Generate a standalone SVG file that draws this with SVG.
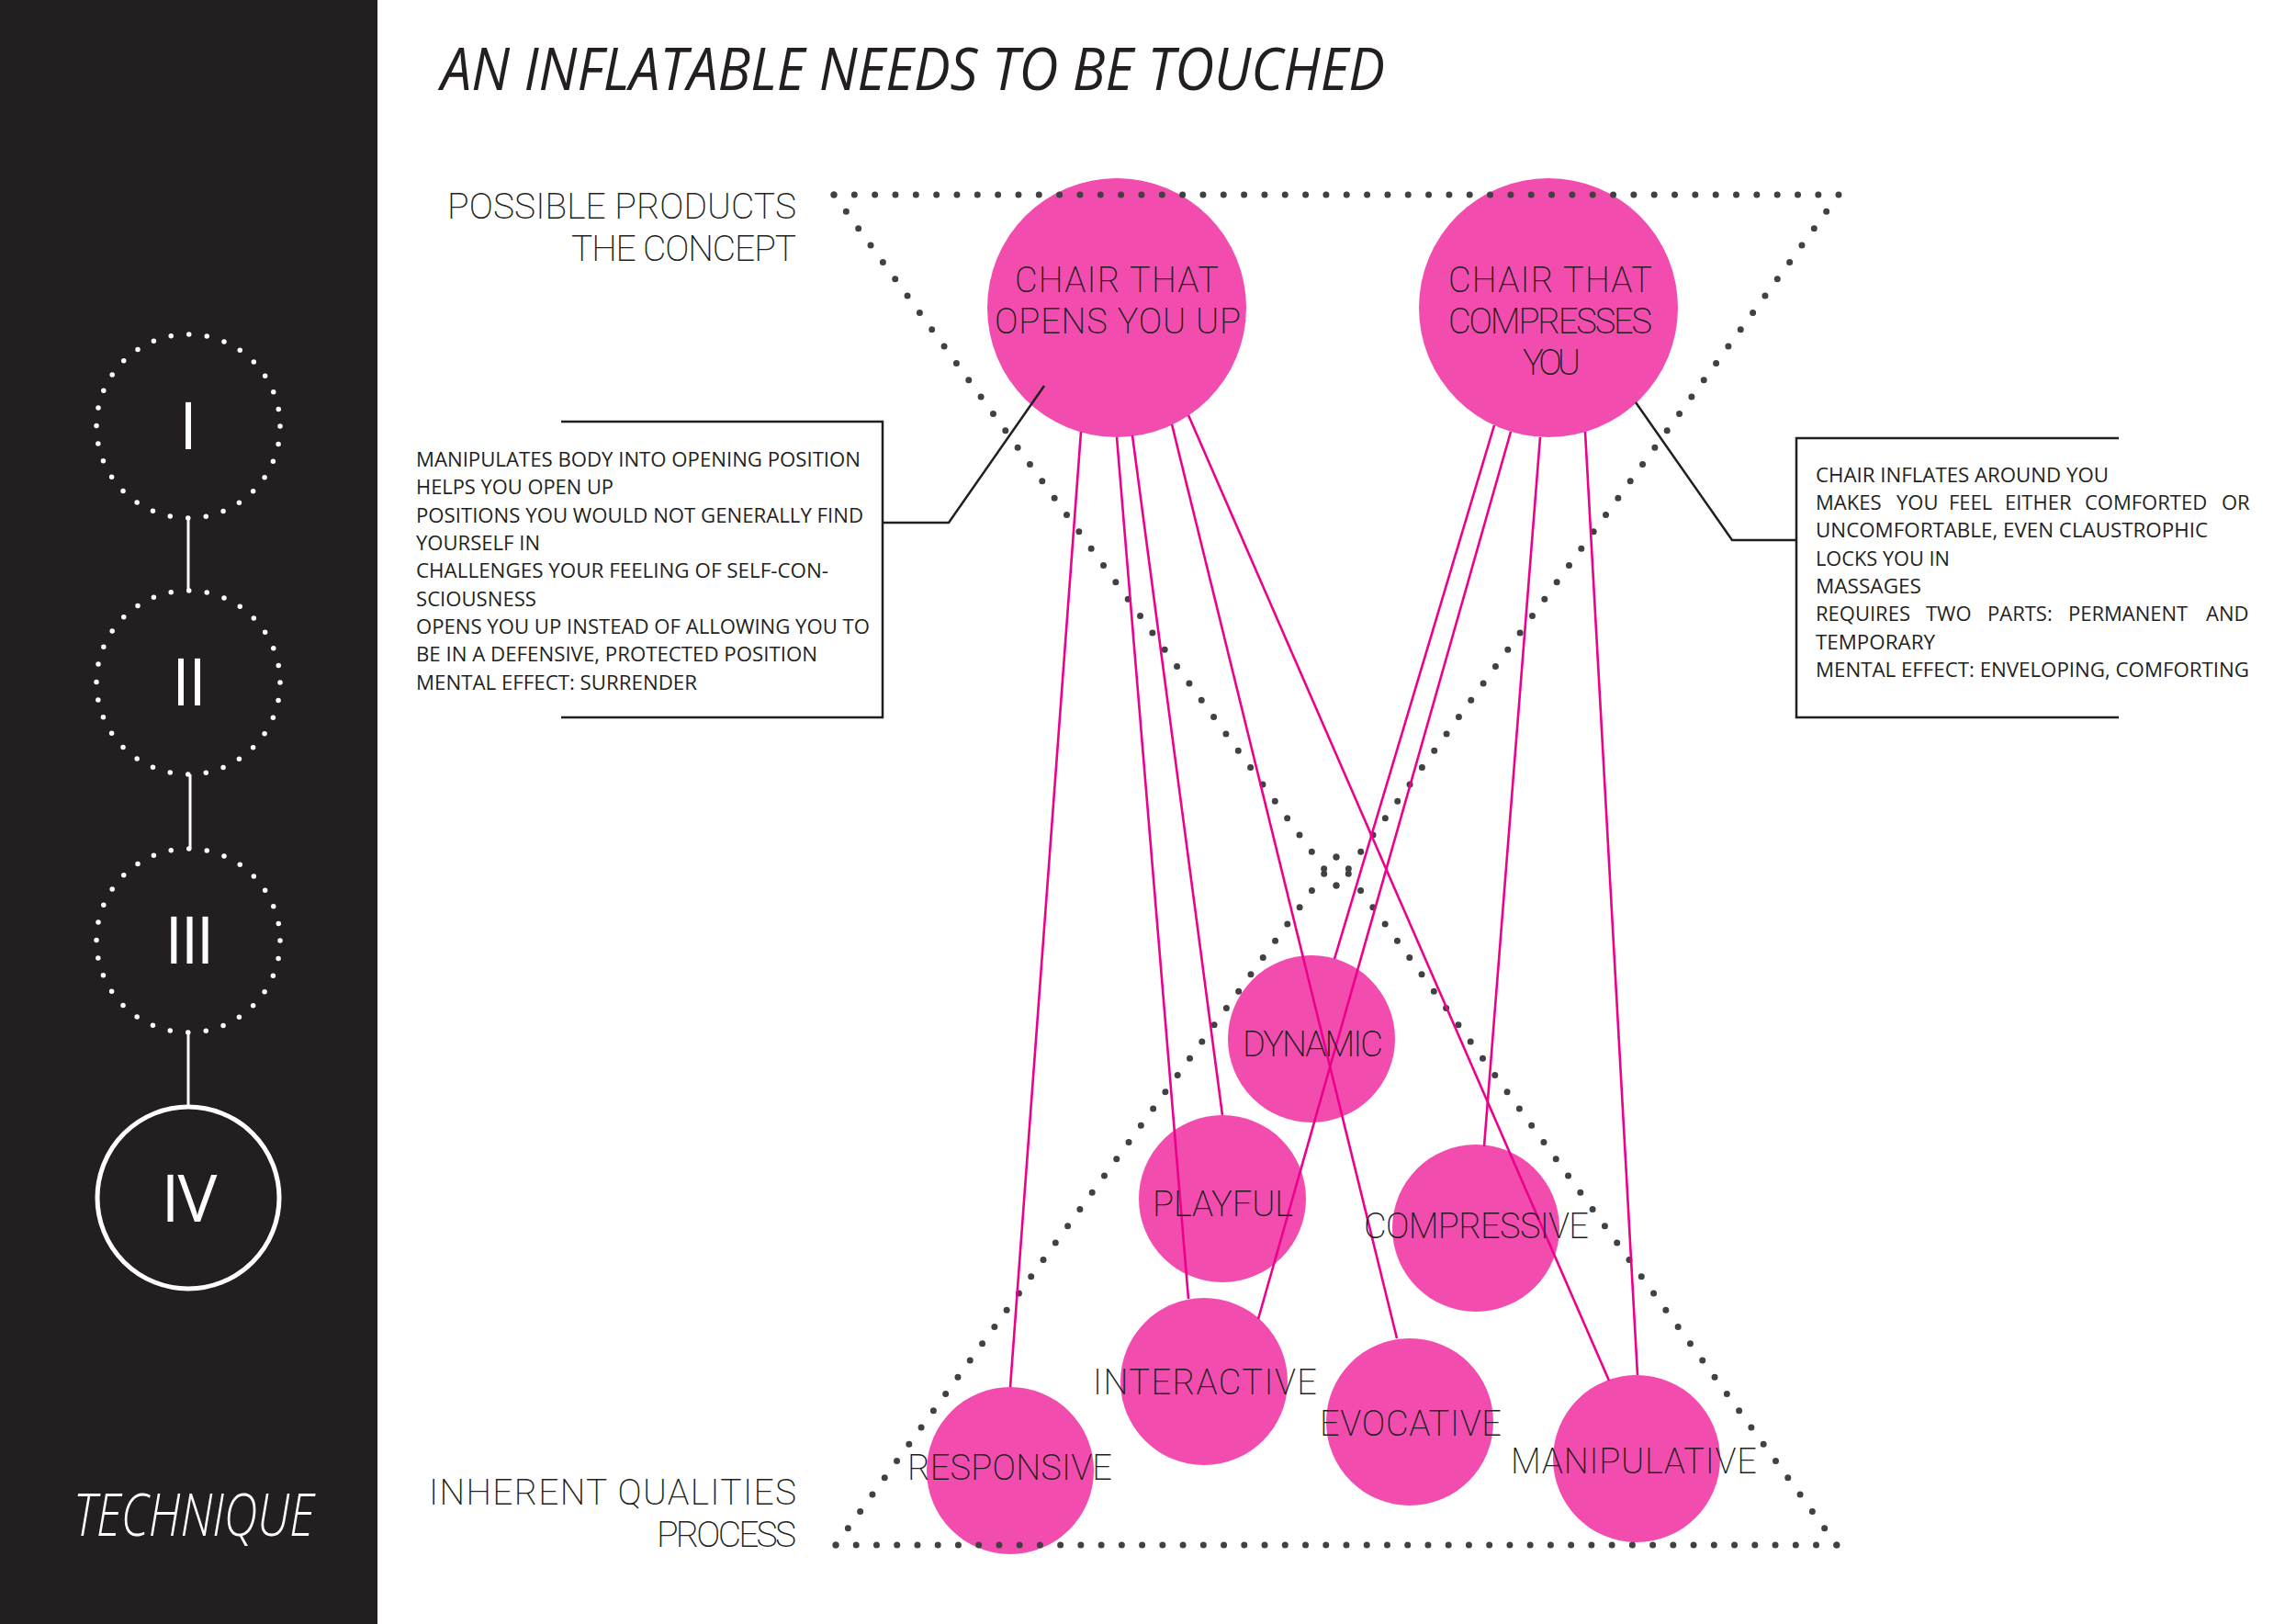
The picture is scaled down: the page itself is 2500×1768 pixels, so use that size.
<svg xmlns="http://www.w3.org/2000/svg" width="2500" height="1768" viewBox="0 0 2500 1768">
<defs>
<style>
.side{fill:#231f20}
.step{fill:none;stroke:#fff;stroke-width:5.5;stroke-linecap:round;stroke-dasharray:0 19.635}
.stepsolid{fill:none;stroke:#fff;stroke-width:5}
.num{font-family:"Open Sans","Liberation Sans",sans-serif;font-size:72px;fill:#fff;text-anchor:middle}
.link{stroke:#fff;stroke-width:3}
.dots{fill:none;stroke:#414042;stroke-width:7;stroke-linecap:round}
.bubble{fill:#f24dae}
.lbl{font-family:Roboto,"DejaVu Sans",sans-serif;font-weight:200;font-size:38px;fill:#231f20}
.side-lbl{font-family:Roboto,"DejaVu Sans",sans-serif;font-weight:200;font-size:39px;fill:#231f20}
.conn{stroke:#ec008c;stroke-width:2.6;fill:none}
.call{stroke:#231f20;stroke-width:2.5;fill:none}
.note{font-family:"Open Sans","Liberation Sans",sans-serif;font-size:22px;fill:#231f20}
.title{font-family:"Open Sans","Liberation Sans",sans-serif;font-style:italic;font-size:64px;fill:#231f20}
.tech{font-family:"Open Sans","Liberation Sans",sans-serif;font-style:italic;font-weight:300;font-size:64px;fill:#fff}
</style>
</defs>
<rect width="2500" height="1768" fill="#fff"/>

<!-- sidebar -->
<g id="sidebar">
<rect class="side" x="0" y="0" width="411" height="1768"/>
<g id="step-links">
<line class="link" x1="205" y1="564" x2="205" y2="643"/>
<line class="link" x1="207" y1="843" x2="207" y2="924"/>
<line class="link" x1="205" y1="1124" x2="205" y2="1204"/>
</g>
<g id="step-1"><circle class="step" cx="205" cy="464" r="100"/><text class="num" x="205" y="489">I</text></g>
<g id="step-2"><circle class="step" cx="205" cy="743" r="100"/><text class="num" x="205" y="768" letter-spacing="-2">II</text></g>
<g id="step-3"><circle class="step" cx="205" cy="1024" r="100"/><text class="num" x="205" y="1049" letter-spacing="-3">III</text></g>
<g id="step-4"><circle class="stepsolid" cx="205" cy="1304" r="99"/><text class="num" x="205" y="1330" letter-spacing="-2">IV</text></g>
<text class="tech" x="80" y="1672" textLength="262" lengthAdjust="spacingAndGlyphs">TECHNIQUE</text>
</g>

<!-- title -->
<text id="title" class="title" x="480" y="98" textLength="1028" lengthAdjust="spacingAndGlyphs">AN INFLATABLE NEEDS TO BE TOUCHED</text>

<!-- side labels -->
<g id="label-products">
<text class="side-lbl" x="487" y="238" textLength="380" lengthAdjust="spacing">POSSIBLE PRODUCTS</text>
<text class="side-lbl" x="622" y="284" textLength="245" lengthAdjust="spacing">THE CONCEPT</text>
</g>
<g id="label-qualities">
<text class="side-lbl" x="467" y="1638" textLength="400" lengthAdjust="spacing">INHERENT QUALITIES</text>
<text class="side-lbl" x="715" y="1684" textLength="152" lengthAdjust="spacing">PROCESS</text>
</g>

<!-- node circles -->
<g id="circles">
<circle id="c-open" class="bubble" cx="1216" cy="335" r="141"/>
<circle id="c-compress" class="bubble" cx="1686" cy="335" r="141"/>
<circle id="c-dynamic" class="bubble" cx="1428" cy="1131" r="91"/>
<circle id="c-playful" class="bubble" cx="1331" cy="1305" r="91"/>
<circle id="c-compressive" class="bubble" cx="1607" cy="1337" r="91"/>
<circle id="c-interactive" class="bubble" cx="1311" cy="1504" r="91"/>
<circle id="c-evocative" class="bubble" cx="1535" cy="1548" r="91"/>
<circle id="c-responsive" class="bubble" cx="1100" cy="1601" r="91"/>
<circle id="c-manipulative" class="bubble" cx="1782" cy="1588" r="91"/>
</g>

<!-- hourglass dotted frame -->
<g id="hourglass">
<path class="dots" d="M908,212 H2002" stroke-dasharray="0 22.33"/>
<path class="dots" d="M1455,964 L908,212" stroke-dasharray="0 22.68"/>
<path class="dots" d="M1455,964 L2002,212" stroke-dasharray="0 22.68"/>
<path class="dots" d="M1455,933 L910,1682" stroke-dasharray="0 22.59"/>
<path class="dots" d="M1455,933 L2000,1682" stroke-dasharray="0 22.59"/>
<path class="dots" d="M910,1682 H2000" stroke-dasharray="0 22.24"/>
</g>

<!-- connectors -->
<g id="connectors">
<line class="conn" x1="1177" y1="470" x2="1100" y2="1510"/>
<line class="conn" x1="1216" y1="476" x2="1294" y2="1414"/>
<line class="conn" x1="1233" y1="474" x2="1331" y2="1214"/>
<line class="conn" x1="1276" y1="462" x2="1521" y2="1457"/>
<line class="conn" x1="1294" y1="452" x2="1752" y2="1503"/>
<line class="conn" x1="1627" y1="463" x2="1453" y2="1044"/>
<line class="conn" x1="1645" y1="470" x2="1370" y2="1436"/>
<line class="conn" x1="1677" y1="476" x2="1616" y2="1248"/>
<line class="conn" x1="1726" y1="470" x2="1783" y2="1497"/>
<path class="call" d="M611,459 H961 V781 H611"/>
<path class="call" d="M961,569 H1033 L1137,420"/>
<path class="call" d="M2307,477 H1956 V781 H2307"/>
<path class="call" d="M1781,438 L1886,588 H1956"/>
</g>

<!-- node labels -->
<g id="node-open">
<text class="lbl" x="1105" y="318" textLength="222" lengthAdjust="spacing">CHAIR THAT</text>
<text class="lbl" x="1083" y="363" textLength="268" lengthAdjust="spacing">OPENS YOU UP</text>
</g>
<g id="node-compress">
<text class="lbl" x="1577" y="318" textLength="222" lengthAdjust="spacing">CHAIR THAT</text>
<text class="lbl" x="1577" y="363" textLength="222" lengthAdjust="spacing">COMPRESSES</text>
<text class="lbl" x="1658" y="408" textLength="63" lengthAdjust="spacing">YOU</text>
</g>
<g id="node-dynamic"><text class="lbl" x="1353" y="1150" textLength="153" lengthAdjust="spacing">DYNAMIC</text></g>
<g id="node-playful"><text class="lbl" x="1255" y="1324" textLength="153" lengthAdjust="spacing">PLAYFUL</text></g>
<g id="node-compressive"><text class="lbl" x="1485" y="1348" textLength="245" lengthAdjust="spacing">COMPRESSIVE</text></g>
<g id="node-interactive"><text class="lbl" x="1190" y="1518" textLength="244" lengthAdjust="spacing">INTERACTIVE</text></g>
<g id="node-evocative"><text class="lbl" x="1437" y="1563" textLength="198" lengthAdjust="spacing">EVOCATIVE</text></g>
<g id="node-responsive"><text class="lbl" x="988" y="1611" textLength="223" lengthAdjust="spacing">RESPONSIVE</text></g>
<g id="node-manipulative"><text class="lbl" x="1645" y="1604" textLength="268" lengthAdjust="spacing">MANIPULATIVE</text></g>

<!-- callout notes -->
<g id="note-open">
<text class="note" x="453" y="508" textLength="484" lengthAdjust="spacingAndGlyphs">MANIPULATES BODY INTO OPENING POSITION</text>
<text class="note" x="453" y="538" textLength="215" lengthAdjust="spacingAndGlyphs">HELPS YOU OPEN UP</text>
<text class="note" x="453" y="569" textLength="487" lengthAdjust="spacingAndGlyphs">POSITIONS YOU WOULD NOT GENERALLY FIND</text>
<text class="note" x="453" y="599" textLength="135" lengthAdjust="spacingAndGlyphs">YOURSELF IN</text>
<text class="note" x="453" y="629" textLength="449" lengthAdjust="spacingAndGlyphs">CHALLENGES YOUR FEELING OF SELF-CON-</text>
<text class="note" x="453" y="660" textLength="131" lengthAdjust="spacingAndGlyphs">SCIOUSNESS</text>
<text class="note" x="453" y="690" textLength="494" lengthAdjust="spacingAndGlyphs">OPENS YOU UP INSTEAD OF ALLOWING YOU TO</text>
<text class="note" x="453" y="720" textLength="437" lengthAdjust="spacingAndGlyphs">BE IN A DEFENSIVE, PROTECTED POSITION</text>
<text class="note" x="453" y="751" textLength="306" lengthAdjust="spacingAndGlyphs">MENTAL EFFECT: SURRENDER</text>
</g>
<g id="note-compress">
<text class="note" x="1977" y="525" textLength="319" lengthAdjust="spacingAndGlyphs">CHAIR INFLATES AROUND YOU</text>
<text class="note" y="555"><tspan x="1977">MAKES</tspan><tspan x="2065">YOU</tspan><tspan x="2122">FEEL</tspan><tspan x="2183">EITHER</tspan><tspan x="2270">COMFORTED</tspan><tspan x="2419">OR</tspan></text>
<text class="note" x="1977" y="585" textLength="427" lengthAdjust="spacingAndGlyphs">UNCOMFORTABLE, EVEN CLAUSTROPHIC</text>
<text class="note" x="1977" y="616" textLength="146" lengthAdjust="spacingAndGlyphs">LOCKS YOU IN</text>
<text class="note" x="1977" y="646" textLength="115" lengthAdjust="spacingAndGlyphs">MASSAGES</text>
<text class="note" y="676"><tspan x="1977">REQUIRES</tspan><tspan x="2097">TWO</tspan><tspan x="2164">PARTS:</tspan><tspan x="2252">PERMANENT</tspan><tspan x="2402">AND</tspan></text>
<text class="note" x="1977" y="707" textLength="130" lengthAdjust="spacingAndGlyphs">TEMPORARY</text>
<text class="note" x="1977" y="737" textLength="472" lengthAdjust="spacingAndGlyphs">MENTAL EFFECT: ENVELOPING, COMFORTING</text>
</g>
</svg>
